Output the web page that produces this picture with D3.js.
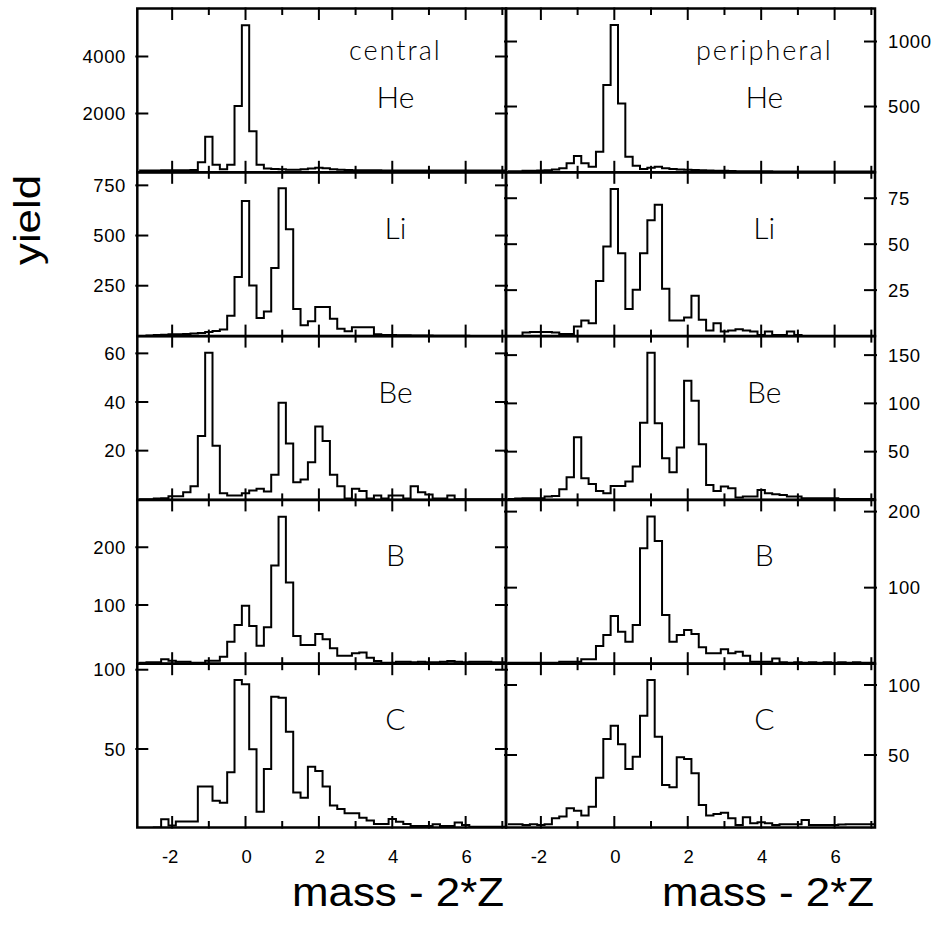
<!DOCTYPE html>
<html><head><meta charset="utf-8">
<script src="https://cdn.jsdelivr.net/npm/d3@7"></script>
<style>body{margin:0;background:#fff}svg{display:block}</style>
</head><body>
<svg id="chart" width="947" height="930"></svg>
<script>
// ---------------- data ----------------
const binCenters = [-2.8,-2.6,-2.4,-2.2,-2.0,-1.8,-1.6,-1.4,-1.2,-1.0,-0.8,-0.6,-0.4,-0.2,0.0,0.2,0.4,0.6,0.8,1.0,
  1.2,1.4,1.6,1.8,2.0,2.2,2.4,2.6,2.8,3.0,3.2,3.4,3.6,3.8,4.0,4.2,4.4,4.6,4.8,5.0,5.2,5.4,5.6,5.8,6.0,6.2,6.4,6.6,6.8,7.0];
const elements = ["He","Li","Be","B","C"];
const columnTitles = ["central","peripheral"];

const heCentral = [0,0,3,5,5,8,10,15,290,1180,200,40,200,2260,5100,1380,200,70,50,40,
  30,25,40,70,100,75,45,25,15,10,8,6,5,4,3,3,2,2,2,2,1,1,1,1,1,1,1,0,0,0];
const hePeripheral = [2,3,5,6,8,10,15,25,63,119,63,37,152,665,1127,524,114,45,19,29,
  37,25,19,15,13,11,9,7,6,5,4,3,3,2,2,2,1,1,1,1,1,1,1,1,0,0,0,0,0,0];
const liCentral = [0,2,4,6,8,8,10,12,15,20,25,32,100,293,672,251,89,122,338,735,
  531,134,53,73,144,144,86,35,23,43,43,43,8,5,4,3,3,2,2,2,1,1,1,1,1,0,0,0,0,0];
const liPeripheral = [0,0,2,2.2,2.2,2.2,2,1.2,1.2,5.2,8.5,7,30,48.7,80,45,14.8,25.2,45,63,
  71.4,25.7,8.5,8.5,10.1,22,8.9,3,7,2.5,3,3.7,3,2.5,0.6,2.5,0.6,0.6,2.5,0.6,0,0,0,0,0,0,0,0,0,0];
const beCentral = [0,0,0.3,0.4,1.2,1.2,2.9,5.4,26,60.3,22,2.5,1.6,1.6,2.5,3.6,4.3,3.2,10.1,39.7,
  22.9,7,8.1,15.2,29.9,24,10.1,5.4,0.3,4.3,3.4,0.3,1.6,0.3,1.6,1.6,0.3,5.4,2.9,2,0.3,0.3,1.6,0,0,0,0,0,0,0];
const bePeripheral = [1,1.5,1.7,1.7,1.7,3.4,4,11,23.5,64.9,22.4,16.6,9.3,6.9,14.5,14.5,19,34.5,80,152.5,
  79.4,43.1,28.6,54.2,123.5,102.8,57.6,15.5,9.3,13.8,12.1,2.4,3.4,3.4,10.3,6.9,5.9,5.2,3.4,3.4,1.7,1.7,1.7,1.7,1.7,1,1,1,1,1];
const bCentral = [0,0.6,0.6,5.8,3.5,1.7,1.7,0,0,3.5,3.5,10.4,36.4,65.2,98.7,63.4,29.5,61.3,168.2,253,
  139,46.3,30.7,30.7,49.8,40.6,25,12.1,12.1,16.2,17.9,8.7,2.9,0,0,1.7,1.7,0.6,1.7,0.6,0.6,1.7,2.9,1.7,0.6,1.7,1.7,1.7,0.6,0.6];
const bPeripheral = [1.3,1.3,1.3,1.3,1.3,1.3,1.3,2.6,2.6,2.6,5.7,5.7,23.2,37.7,62.7,42,28.9,50.8,151.8,193.5,
  161.5,64,28.9,37.7,44.3,39,21.5,13.6,13.6,18.9,13.6,15.8,10.5,2.6,2.6,2.6,7,1.8,1.3,1.8,1.3,1.8,1.3,1.8,1.3,1.8,1.3,1.8,1.3,1.3];
const cCentral = [0,0,0.5,5.7,1.7,4.3,4.3,4.3,26.3,26.3,17.4,16.1,35.3,93.5,90.8,49.8,10.5,37.4,82.9,82.3,
  60.9,22.5,19.3,38.8,36.1,26.3,14.3,12.2,9.5,9.5,6.7,4.9,2.7,2.7,5.9,4.2,2.7,1.5,1.5,1.5,2.5,1.5,1.5,3.6,2.1,1,1,1,1,1];
const cPeripheral = [0.5,0.5,0,0.5,0,0.5,4.8,6,11.9,10.2,6.7,13.1,33.8,61.4,70.9,57.6,40,48.8,78.1,103.5,
  63.1,28.6,26.9,48.3,47.1,36.9,14.3,6.7,7.9,8.8,4.8,0,5.5,1.2,1.9,1.2,0,0.5,0.5,0.5,3.6,0,0,0,0,0.3,0.5,0.5,0.5,0.5];

const centralSeries = [heCentral, liCentral, beCentral, bCentral, cCentral];
const peripheralSeries = [hePeripheral, liPeripheral, bePeripheral, bPeripheral, cPeripheral];

const leftTickValues  = [[2000,4000],[250,500,750],[20,40,60],[100,200],[50,100]];
const rightTickValues = [[500,1000],[25,50,75],[50,100,150],[100,200],[50,100]];
const xTickValues = [-2,-1,0,1,2,3,4,5,6,7];
const xTickLabels = [-2,0,2,4,6];
const xAxisTitle = "mass - 2*Z";
const yAxisTitle = "yield";

// ---------------- layout ----------------
const rowTop = 8.5, rowH = 163.8;
const cols = [{x0:137.3, x1:506}, {x0:506, x1:875}];
const xDomain = [-2.95, 7.1];
// y domains [row][col]
const yDomains = [
  [[-63,5684],[-6,1254]],
  [[-1,815],[0,89.1]],
  [[-0.25,67.1],[0,169.7]],
  [[-1.7,282],[0,215.4]],
  [[0.5,103.8],[-1.8,115.2]]
];
const FONT = "'Liberation Sans', Arial, Helvetica, sans-serif";
const LABELFONT = "Lato, 'Open Sans', 'DejaVu Sans', sans-serif";

const svg = d3.select("#chart");
const defs = svg.append("defs");
const binW = binCenters[1] - binCenters[0];

for (let r = 0; r < 5; r++) {
  for (let c = 0; c < 2; c++) {
    const col = cols[c];
    const y0 = rowTop + r * rowH, y1 = y0 + rowH;
    const x = d3.scaleLinear().domain(xDomain).range([col.x0, col.x1]);
    const y = d3.scaleLinear().domain(yDomains[r][c]).range([y1, y0]);
    const series = c === 0 ? centralSeries[r] : peripheralSeries[r];
    const g = svg.append("g");
    const clipId = `clip-${r}-${c}`;
    defs.append("clipPath").attr("id", clipId).append("rect")
      .attr("x", col.x0).attr("y", y0).attr("width", col.x1 - col.x0).attr("height", rowH);

    // histogram as a step line
    const pts = binCenters.map((b, i) => [b - binW / 2, series[i]]);
    pts.push([binCenters[binCenters.length - 1] + binW / 2, series[series.length - 1]]);
    const line = d3.line().x(d => x(d[0])).y(d => y(d[1])).curve(d3.curveStepAfter);
    g.append("path").attr("d", line(pts)).attr("clip-path", `url(#${clipId})`)
      .attr("fill", "none").attr("stroke", "#000").attr("stroke-width", 2)
      .attr("stroke-linejoin", "miter");

    // x ticks (top pointing down, bottom pointing up)
    const tickLen = v => (v % 2 === 0 ? 11.5 : 6.5);
    g.selectAll(".xt-top").data(xTickValues).join("line")
      .attr("x1", d => x(d)).attr("x2", d => x(d))
      .attr("y1", y0 - 1).attr("y2", d => y0 + tickLen(d))
      .attr("stroke", "#000").attr("stroke-width", 2);
    g.selectAll(".xt-bot").data(xTickValues).join("line")
      .attr("x1", d => x(d)).attr("x2", d => x(d))
      .attr("y1", y1 + 1).attr("y2", d => y1 - tickLen(d))
      .attr("stroke", "#000").attr("stroke-width", 2);

    // y ticks on both sides
    const tv = c === 0 ? leftTickValues[r] : rightTickValues[r];
    g.selectAll(".yt-l").data(tv).join("line")
      .attr("x1", col.x0 - 2).attr("x2", col.x0 + 11)
      .attr("y1", d => y(d)).attr("y2", d => y(d))
      .attr("stroke", "#000").attr("stroke-width", 2);
    g.selectAll(".yt-r").data(tv).join("line")
      .attr("x1", col.x1 + 2).attr("x2", col.x1 - 11)
      .attr("y1", d => y(d)).attr("y2", d => y(d))
      .attr("stroke", "#000").attr("stroke-width", 2);

    // tick labels
    if (c === 0) {
      g.selectAll(".yl").data(tv).join("text")
        .attr("x", 126).attr("y", d => y(d)).attr("dy", "0.36em")
        .attr("text-anchor", "end").attr("font-family", FONT).attr("font-size", 18.5)
        .attr("letter-spacing", "0.6px")
        .text(d => d);
    } else {
      g.selectAll(".yl").data(tv).join("text")
        .attr("x", 888).attr("y", d => y(d)).attr("dy", "0.36em")
        .attr("text-anchor", "start").attr("font-family", FONT).attr("font-size", 18.5)
        .attr("letter-spacing", "0.6px")
        .text(d => d);
    }
    if (r === 4) {
      g.selectAll(".xl").data(xTickLabels).join("text")
        .attr("x", d => x(d) + (d < 0 ? -2 : 1)).attr("y", 856).attr("dy", "0.36em")
        .attr("text-anchor", "middle").attr("font-family", FONT).attr("font-size", 18.5)
        .text(d => d);
    }

    // frame
    g.append("rect").attr("x", col.x0).attr("y", y0)
      .attr("width", col.x1 - col.x0).attr("height", rowH)
      .attr("fill", "none").attr("stroke", "#000").attr("stroke-width", 2.5);

    // element label
    const lx = col.x0 + (col.x1 - col.x0) * 0.70;
    g.append("text").attr("x", lx).attr("y", r === 0 ? y0 + 99 : y0 + 66.5)
      .attr("text-anchor", "middle").attr("font-family", LABELFONT).attr("font-weight", 300)
      .attr("font-size", 30).attr("fill", "#000").text(elements[r]);
    if (r === 0) {
      g.append("text").attr("x", lx).attr("y", y0 + 51.5)
        .attr("text-anchor", "middle").attr("font-family", LABELFONT).attr("font-weight", 300)
        .attr("font-size", 27).attr("letter-spacing", "2px").attr("fill", "#000").text(columnTitles[c]);
    }
  }
}

// axis titles
svg.append("text").attr("transform", "translate(40,220) rotate(-90)")
  .attr("text-anchor", "middle").attr("font-family", FONT).attr("font-size", 36)
  .attr("textLength", 90).attr("lengthAdjust", "spacingAndGlyphs").text(yAxisTitle);
[398, 768].forEach(cx => {
  svg.append("text").attr("x", cx).attr("y", 906).attr("text-anchor", "middle")
    .attr("font-family", FONT).attr("font-size", 40)
    .attr("textLength", 212).attr("lengthAdjust", "spacingAndGlyphs").text(xAxisTitle);
});
</script>
</body></html>
